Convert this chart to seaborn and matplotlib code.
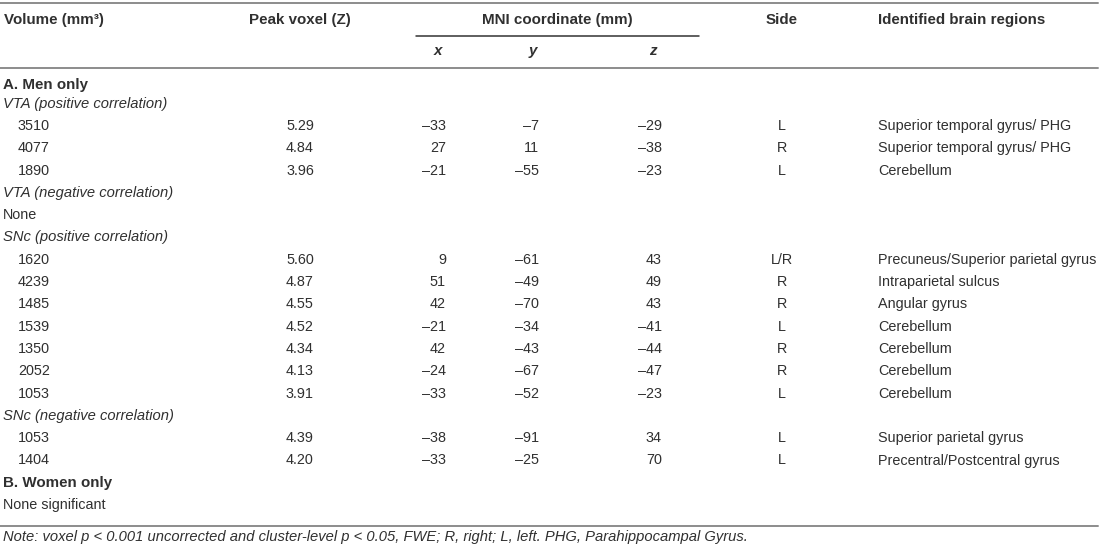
import matplotlib
matplotlib.use("Agg")
import matplotlib.pyplot as plt
import seaborn as sns

# ---- data ----
vta_pos_volume = [3510, 4077, 1890]
vta_pos_peak = [5.29, 4.84, 3.96]
vta_pos_x = [-33, 27, -21]
vta_pos_y = [-7, 11, -55]
vta_pos_z = [-29, -38, -23]
vta_pos_side = ["L", "R", "L"]
vta_pos_region = ["Superior temporal gyrus/ PHG", "Superior temporal gyrus/ PHG", "Cerebellum"]

snc_pos_volume = [1620, 4239, 1485, 1539, 1350, 2052, 1053]
snc_pos_peak = [5.60, 4.87, 4.55, 4.52, 4.34, 4.13, 3.91]
snc_pos_x = [9, 51, 42, -21, 42, -24, -33]
snc_pos_y = [-61, -49, -70, -34, -43, -67, -52]
snc_pos_z = [43, 49, 43, -41, -44, -47, -23]
snc_pos_side = ["L/R", "R", "R", "L", "R", "R", "L"]
snc_pos_region = ["Precuneus/Superior parietal gyrus", "Intraparietal sulcus", "Angular gyrus",
                  "Cerebellum", "Cerebellum", "Cerebellum", "Cerebellum"]

snc_neg_volume = [1053, 1404]
snc_neg_peak = [4.39, 4.20]
snc_neg_x = [-38, -33]
snc_neg_y = [-91, -25]
snc_neg_z = [34, 70]
snc_neg_side = ["L", "L"]
snc_neg_region = ["Superior parietal gyrus", "Precentral/Postcentral gyrus"]

col_headers = ["Volume (mm\u00b3)", "Peak voxel (Z)", "MNI coordinate (mm)", "Side", "Identified brain regions"]
coord_headers = ["x", "y", "z"]
note_text = ("Note: voxel p < 0.001 uncorrected and cluster-level p < 0.05, FWE; "
             "R, right; L, left. PHG, Parahippocampal Gyrus.")

def num(v):
    return str(v).replace("-", "\u2013")

def block(vol, peak, xs, ys, zs, side, reg):
    return [("data", (str(a), f"{b:.2f}", num(c), num(d), num(e), f, g))
            for a, b, c, d, e, f, g in zip(vol, peak, xs, ys, zs, side, reg)]

rows = ([("section", "A. Men only"), ("sub", "VTA (positive correlation)")]
        + block(vta_pos_volume, vta_pos_peak, vta_pos_x, vta_pos_y, vta_pos_z, vta_pos_side, vta_pos_region)
        + [("sub", "VTA (negative correlation)"), ("plain", "None"),
           ("sub", "SNc (positive correlation)")]
        + block(snc_pos_volume, snc_pos_peak, snc_pos_x, snc_pos_y, snc_pos_z, snc_pos_side, snc_pos_region)
        + [("sub", "SNc (negative correlation)")]
        + block(snc_neg_volume, snc_neg_peak, snc_neg_x, snc_neg_y, snc_neg_z, snc_neg_side, snc_neg_region)
        + [("section", "B. Women only"), ("plain", "None significant")])

# ---- drawing ----
sns.set_theme(style="white")
plt.rcParams["font.family"] = ["Liberation Sans", "DejaVu Sans"]

W, H = 1100, 548
fig = plt.figure(figsize=(W / 100, H / 100), dpi=100)
ax = fig.add_axes([0, 0, 1, 1])
ax.set_xlim(0, W)
ax.set_ylim(H, 0)
ax.axis("off")

txt = "#303030"
rule = "#8c8c8c"
fs = 10.4
hfs = 10.9
nfs = 10.6

# rules
ax.plot([0, 1098], [3, 3], color=rule, lw=1.4)
ax.plot([0, 1098], [67.5, 67.5], color=rule, lw=1.4)
ax.plot([0, 1098], [525.5, 525.5], color=rule, lw=1.4)
ax.plot([416, 699], [36, 36], color="#333333", lw=1.1)

# headers
hy = 20
ax.text(4, hy, col_headers[0], ha="left", va="center", fontsize=hfs, fontweight="bold", color=txt)
ax.text(300, hy, col_headers[1], ha="center", va="center", fontsize=hfs, fontweight="bold", color=txt)
ax.text(557, hy, col_headers[2], ha="center", va="center", fontsize=hfs, fontweight="bold", color=txt)
ax.text(782, hy, col_headers[3], ha="center", va="center", fontsize=hfs, fontweight="bold", color=txt)
ax.text(878, hy, col_headers[4], ha="left", va="center", fontsize=hfs, fontweight="bold", color=txt)
for cx, lab in zip([438, 533, 653], coord_headers):
    ax.text(cx, 51, lab, ha="center", va="center", fontsize=hfs, fontweight="bold",
            fontstyle="italic", color=txt)

# body
for i, (kind, content) in enumerate(rows):
    if i == 0:
        y = 85.5
    elif i == 1:
        y = 104
    else:
        y = 126 + (i - 2) * 22.3
    if kind == "section":
        ax.text(3, y, content, ha="left", va="center", fontsize=hfs, fontweight="bold", color=txt)
    elif kind == "sub":
        ax.text(3, y, content, ha="left", va="center", fontsize=nfs, fontstyle="italic", color=txt)
    elif kind == "plain":
        ax.text(3, y, content, ha="left", va="center", fontsize=fs, color=txt)
    else:
        vol, peak, xs, ys, zs, side, reg = content
        ax.text(18, y, vol, ha="left", va="center", fontsize=fs, color=txt)
        ax.text(300, y, peak, ha="center", va="center", fontsize=fs, color=txt)
        ax.text(446, y, xs, ha="right", va="center", fontsize=fs, color=txt)
        ax.text(539, y, ys, ha="right", va="center", fontsize=fs, color=txt)
        ax.text(662, y, zs, ha="right", va="center", fontsize=fs, color=txt)
        ax.text(782, y, side, ha="center", va="center", fontsize=fs, color=txt)
        ax.text(878, y, reg, ha="left", va="center", fontsize=fs, color=txt)

ax.text(3, 537, note_text, ha="left", va="center", fontsize=nfs, fontstyle="italic", color=txt)

fig.savefig("out.png", dpi=100)
